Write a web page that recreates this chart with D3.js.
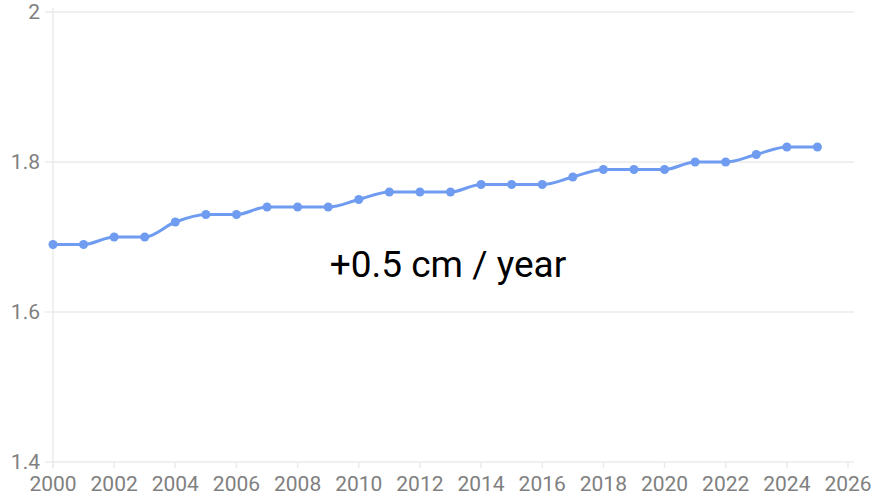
<!DOCTYPE html>
<html>
<head>
<meta charset="utf-8">
<script src="https://cdn.jsdelivr.net/npm/d3@7"></script>
<style>
  html, body { margin: 0; padding: 0; background: #fff; }
  svg { display: block; font-family: Roboto, "Noto Sans", sans-serif; }
</style>
</head>
<body>
<div id="chart"></div>
<script>
// yearly average height (m)
const years   = [2000, 2001, 2002, 2003, 2004, 2005, 2006, 2007, 2008, 2009, 2010, 2011, 2012,
                 2013, 2014, 2015, 2016, 2017, 2018, 2019, 2020, 2021, 2022, 2023, 2024, 2025];
const heights = [1.69, 1.69, 1.70, 1.70, 1.72, 1.73, 1.73, 1.74, 1.74, 1.74, 1.75, 1.76, 1.76,
                 1.76, 1.77, 1.77, 1.77, 1.78, 1.79, 1.79, 1.79, 1.80, 1.80, 1.81, 1.82, 1.82];
const xTicks  = d3.range(2000, 2027, 2);
const yTicks  = [1.4, 1.6, 1.8, 2];
const note    = '+0.5 cm / year';

const W = 876, H = 497;
const svg = d3.select('#chart').append('svg').attr('width', W).attr('height', H);

const x = d3.scaleLinear().domain([2000, 2026]).range([53, 848]);
const y = d3.scaleLinear().domain([1.4, 2]).range([462, 12]);

const gridCol = '#ebebeb';
const textCol = '#808080';

// horizontal grid + y labels
const yg = svg.append('g');
yg.selectAll('line').data(yTicks).join('line')
  .attr('x1', 45).attr('x2', 854)
  .attr('y1', d => y(d)).attr('y2', d => y(d))
  .attr('stroke', gridCol).attr('stroke-width', 1.5);
yg.selectAll('text').data(yTicks).join('text')
  .attr('x', 40).attr('y', d => y(d)).attr('dy', '0.35em')
  .attr('text-anchor', 'end').attr('font-size', 21).attr('fill', textCol)
  .text(d => d3.format('')(d));

// left axis line
svg.append('line')
  .attr('x1', 53).attr('x2', 53).attr('y1', 8).attr('y2', 468)
  .attr('stroke', gridCol).attr('stroke-width', 1.5);

// x ticks + labels
const xg = svg.append('g');
xg.selectAll('line').data(xTicks).join('line')
  .attr('x1', d => x(d)).attr('x2', d => x(d))
  .attr('y1', 462).attr('y2', 468)
  .attr('stroke', gridCol).attr('stroke-width', 1.5);
xg.selectAll('text').data(xTicks).join('text')
  .attr('x', d => x(d)).attr('y', 491)
  .attr('text-anchor', 'middle').attr('font-size', 21).attr('fill', textCol)
  .text(d => d);

// series
const data = years.map((yr, i) => ({ yr, v: heights[i] }));
const lineCol = '#6f9cf0';

svg.append('path').datum(data)
  .attr('fill', 'none').attr('stroke', lineCol).attr('stroke-width', 3)
  .attr('d', d3.line().x(d => x(d.yr)).y(d => y(d.v)).curve(d3.curveMonotoneX));

svg.append('g').selectAll('circle').data(data).join('circle')
  .attr('cx', d => x(d.yr)).attr('cy', d => y(d.v)).attr('r', 4.5)
  .attr('fill', lineCol);

// annotation
svg.append('text')
  .attr('x', 448).attr('y', 277)
  .attr('text-anchor', 'middle').attr('font-size', 37).attr('fill', '#000')
  .text(note);
</script>
</body>
</html>
